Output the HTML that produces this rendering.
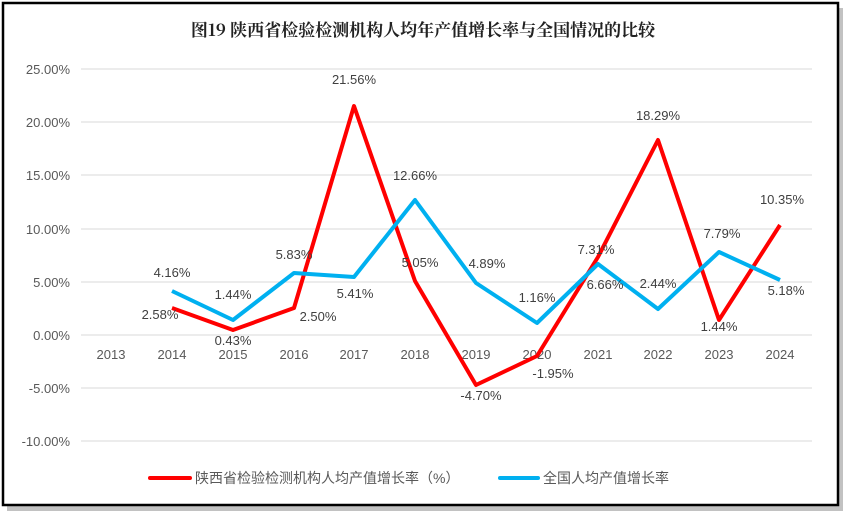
<!DOCTYPE html>
<html><head><meta charset="utf-8"><style>
body{margin:0;background:#fff;}
svg{display:block;}
text{font-family:"Liberation Sans","Noto Sans CJK SC",sans-serif;}
</style></head><body>
<svg width="845" height="517" viewBox="0 0 845 517">
<rect x="7" y="8" width="836" height="503" fill="#999" opacity="0.6"/>
<rect x="3" y="3" width="835" height="502" fill="#fff" stroke="#000" stroke-width="2.5"/>
<text x="423" y="36" text-anchor="middle" font-size="17" font-weight="bold" style="font-family:'Noto Serif CJK SC','Liberation Serif',serif" fill="#222">图19  陕西省检验检测机构人均年产值增长率与全国情况的比较</text>
<g stroke="#d9d9d9" stroke-width="1">
<line x1="81" x2="812" y1="69" y2="69"/><line x1="81" x2="812" y1="122" y2="122"/>
<line x1="81" x2="812" y1="175" y2="175"/><line x1="81" x2="812" y1="229" y2="229"/>
<line x1="81" x2="812" y1="282" y2="282"/><line x1="81" x2="812" y1="335" y2="335"/>
<line x1="81" x2="812" y1="388" y2="388"/><line x1="81" x2="812" y1="441" y2="441"/>
</g>
<g font-size="13" fill="#595959" text-anchor="end">
<text x="70" y="74">25.00%</text><text x="70" y="127">20.00%</text><text x="70" y="180">15.00%</text>
<text x="70" y="234">10.00%</text><text x="70" y="287">5.00%</text><text x="70" y="340">0.00%</text>
<text x="70" y="393">-5.00%</text><text x="70" y="446">-10.00%</text>
</g>
<g font-size="13" fill="#595959" text-anchor="middle">
<text x="111" y="359">2013</text><text x="172" y="359">2014</text><text x="233" y="359">2015</text>
<text x="294" y="359">2016</text><text x="354" y="359">2017</text><text x="415" y="359">2018</text>
<text x="476" y="359">2019</text><text x="537" y="359">2020</text><text x="598" y="359">2021</text>
<text x="658" y="359">2022</text><text x="719" y="359">2023</text><text x="780" y="359">2024</text>
</g>
<polyline fill="none" stroke="#ff0000" stroke-width="4" stroke-linejoin="round" points="172,308 233,330 294,308 354,106 415,281 476,385 537,356 598,257 658,140 719,320 780,225"/>
<polyline fill="none" stroke="#00b0f0" stroke-width="4" stroke-linejoin="round" points="172,291 233,320 294,273 354,277 415,200 476,283 537,323 598,264 658,309 719,252 780,280"/>
<g font-size="13" fill="#404040" text-anchor="middle">
<text x="160" y="319">2.58%</text><text x="233" y="345">0.43%</text><text x="318" y="321">2.50%</text>
<text x="354" y="84">21.56%</text><text x="420" y="267">5.05%</text><text x="481" y="400">-4.70%</text>
<text x="553" y="378">-1.95%</text><text x="596" y="254">7.31%</text><text x="658" y="120">18.29%</text>
<text x="719" y="331">1.44%</text><text x="782" y="204">10.35%</text>
<text x="172" y="277">4.16%</text><text x="233" y="299">1.44%</text><text x="294" y="259">5.83%</text>
<text x="355" y="298">5.41%</text><text x="415" y="180">12.66%</text><text x="487" y="268">4.89%</text>
<text x="537" y="302">1.16%</text><text x="605" y="289">6.66%</text><text x="658" y="288">2.44%</text>
<text x="722" y="238">7.79%</text><text x="786" y="295">5.18%</text>
</g>
<line x1="150" x2="190" y1="478" y2="478" stroke="#ff0000" stroke-width="4" stroke-linecap="round"/>
<text x="195" y="483" font-size="14" fill="#595959">陕西省检验检测机构人均产值增长率（%）</text>
<line x1="500" x2="538" y1="478" y2="478" stroke="#00b0f0" stroke-width="4" stroke-linecap="round"/>
<text x="543" y="483" font-size="14" fill="#595959">全国人均产值增长率</text>
</svg>
</body></html>
